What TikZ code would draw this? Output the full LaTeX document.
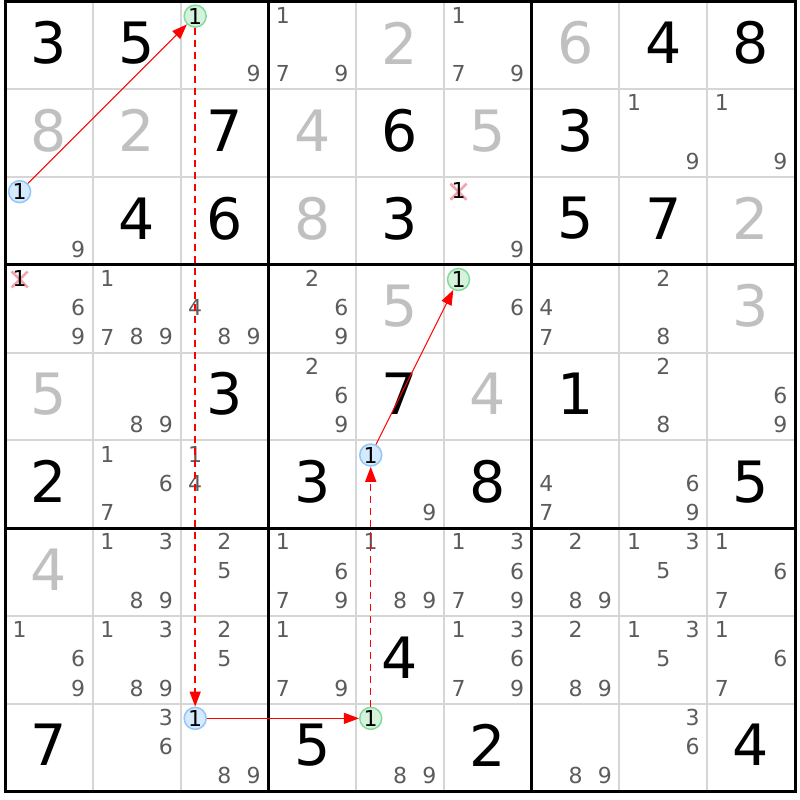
\documentclass[tikz,border=0pt]{standalone}
\usepackage{fontspec}
\setmainfont{DejaVu Sans}
\usetikzlibrary{arrows.meta}
\definecolor{gridthin}{HTML}{D6D6D6}
\definecolor{solvedgray}{HTML}{C0C0C0}
\definecolor{candgray}{HTML}{5C5C5C}
\definecolor{blueF}{HTML}{D6EAFF}
\definecolor{blueD}{HTML}{92C6F8}
\definecolor{greenF}{HTML}{D4F2DC}
\definecolor{greenD}{HTML}{84DA9A}
\definecolor{xpink}{HTML}{F4A4AC}
\definecolor{linkred}{HTML}{FF0000}
\def\CS{87.7778}
\begin{document}
\begin{tikzpicture}[x=1pt,y=-1pt,
  given/.style={text=black,font=\fontsize{57}{57}\selectfont,inner sep=0pt},
  solved/.style={given,text=solvedgray},
  cand/.style={text=candgray,font=\fontsize{22}{22}\selectfont,inner sep=0pt},
  candk/.style={cand,text=black},
  hlblue/.style={circle,draw=blueD,fill=blueF,line width=1.5pt,minimum size=22pt,inner sep=0pt,text=black,font=\fontsize{22}{22}\selectfont},
  hlgreen/.style={hlblue,draw=greenD,fill=greenF},
  thingrid/.style={draw=gridthin,line width=2pt},
  thickgrid/.style={draw=black,line width=3pt},
  xmark/.style={draw=xpink,line width=2.6pt},
  link/.style={draw=linkred,line width=1pt,-{Triangle[length=15pt,width=11pt]}},
  weaklink/.style={draw=linkred,line width=1.5pt,dash pattern=on 7pt off 5pt,-{Triangle[length=15pt,width=11pt]}}
]
\useasboundingbox (0,0) rectangle (800,800);
\fill[white] (0,0) rectangle (800,800);
% thin grid
\foreach \i in {1,2,4,5,7,8} {
  \draw[thingrid] ({5+\CS*\i},1.5) -- ({5+\CS*\i},791.5);
  \draw[thingrid] (5,{1.5+\CS*\i}) -- (795,{1.5+\CS*\i});
}
% thick grid
\foreach \i in {3,6} {
  \draw[thickgrid] ({5+\CS*\i},1.5) -- ({5+\CS*\i},791.5);
  \draw[thickgrid] (5,{1.5+\CS*\i}) -- (795,{1.5+\CS*\i});
}
\draw[thickgrid] (5,1.5) rectangle (795,791.5);
% given digits
\foreach \r/\c/\d in {0/0/3,0/1/5,0/7/4,0/8/8,1/2/7,1/4/6,1/6/3,2/1/4,2/2/6,2/4/3,2/6/5,2/7/7,
  4/2/3,4/4/7,4/6/1,5/0/2,5/3/3,5/5/8,5/8/5,7/4/4,8/0/7,8/3/5,8/5/2,8/8/4}
  \node[given] (v\r\c) at ({5+\CS*(\c+0.5)},{1.5+\CS*(\r+0.5)-2.5}) {\d};
% solved digits
\foreach \r/\c/\d in {0/4/2,0/6/6,1/0/8,1/1/2,1/3/4,1/5/5,2/3/8,2/8/2,3/4/5,3/8/3,4/0/5,4/5/4,6/0/4}
  \node[solved] (s\r\c) at ({5+\CS*(\c+0.5)},{1.5+\CS*(\r+0.5)-2.5}) {\d};
% candidates
\foreach \r/\c/\k in {0/2/9,0/3/1,0/3/7,0/3/9,0/5/1,0/5/7,0/5/9,
  1/7/1,1/7/9,1/8/1,1/8/9,
  2/0/9,2/5/9,
  3/0/6,3/0/9,3/1/1,3/1/7,3/1/8,3/1/9,3/2/4,3/2/8,3/2/9,3/3/2,3/3/6,3/3/9,3/5/6,3/6/4,3/6/7,3/7/2,3/7/8,
  4/1/8,4/1/9,4/3/2,4/3/6,4/3/9,4/7/2,4/7/8,4/8/6,4/8/9,
  5/1/1,5/1/6,5/1/7,5/2/1,5/2/4,5/4/9,5/6/4,5/6/7,5/7/6,5/7/9,
  6/1/1,6/1/3,6/1/8,6/1/9,6/2/2,6/2/5,6/3/1,6/3/6,6/3/7,6/3/9,6/4/1,6/4/8,6/4/9,
  6/5/1,6/5/3,6/5/6,6/5/7,6/5/9,6/6/2,6/6/8,6/6/9,6/7/1,6/7/3,6/7/5,6/8/1,6/8/6,6/8/7,
  7/0/1,7/0/6,7/0/9,7/1/1,7/1/3,7/1/8,7/1/9,7/2/2,7/2/5,7/3/1,7/3/7,7/3/9,
  7/5/1,7/5/3,7/5/6,7/5/7,7/5/9,7/6/2,7/6/8,7/6/9,7/7/1,7/7/3,7/7/5,7/8/1,7/8/6,7/8/7,
  8/1/3,8/1/6,8/2/8,8/2/9,8/4/8,8/4/9,8/6/8,8/6/9,8/7/3,8/7/6} {
  \pgfmathtruncatemacro\sx{mod(\k-1,3)}
  \pgfmathtruncatemacro\sy{int((\k-1)/3)}
  \node[cand] (c\r\c\k) at ({5+\CS*(\c+(2*\sx+1)/6)},{1.5+\CS*(\r+(2*\sy+1)/6)-1}) {\k};
}
% eliminated candidates
\foreach \r/\c in {2/5,3/0} {
  \draw[xmark] ({5+\CS*(\c+1/6)-8},{1.5+\CS*(\r+1/6)-8}) -- ({5+\CS*(\c+1/6)+8},{1.5+\CS*(\r+1/6)+8});
  \draw[xmark] ({5+\CS*(\c+1/6)+8},{1.5+\CS*(\r+1/6)-8}) -- ({5+\CS*(\c+1/6)-8},{1.5+\CS*(\r+1/6)+8});
  \node[candk] (x\r\c) at ({5+\CS*(\c+1/6)},{1.5+\CS*(\r+1/6)-1}) {1};
}
% highlighted candidates
\node[hlblue] (b20) at ({5+\CS*(0+1/6)},{1.5+\CS*(2+1/6)}) {1};
\node[hlblue] (b82) at ({5+\CS*(2+1/6)},{1.5+\CS*(8+1/6)}) {1};
\node[hlblue] (b54) at ({5+\CS*(4+1/6)},{1.5+\CS*(5+1/6)}) {1};
\node[hlgreen] (g02) at ({5+\CS*(2+1/6)},{1.5+\CS*(0+1/6)}) {1};
\node[hlgreen] (g84) at ({5+\CS*(4+1/6)},{1.5+\CS*(8+1/6)}) {1};
\node[hlgreen] (g35) at ({5+\CS*(5+1/6)},{1.5+\CS*(3+1/6)}) {1};
% chain
\draw[link] (b20) -- (g02);
\draw[weaklink] (g02) -- (b82);
\draw[link] (b82) -- (g84);
\draw[weaklink] (g84) -- (b54);
\draw[link] (b54) -- (g35);
\end{tikzpicture}
\end{document}
